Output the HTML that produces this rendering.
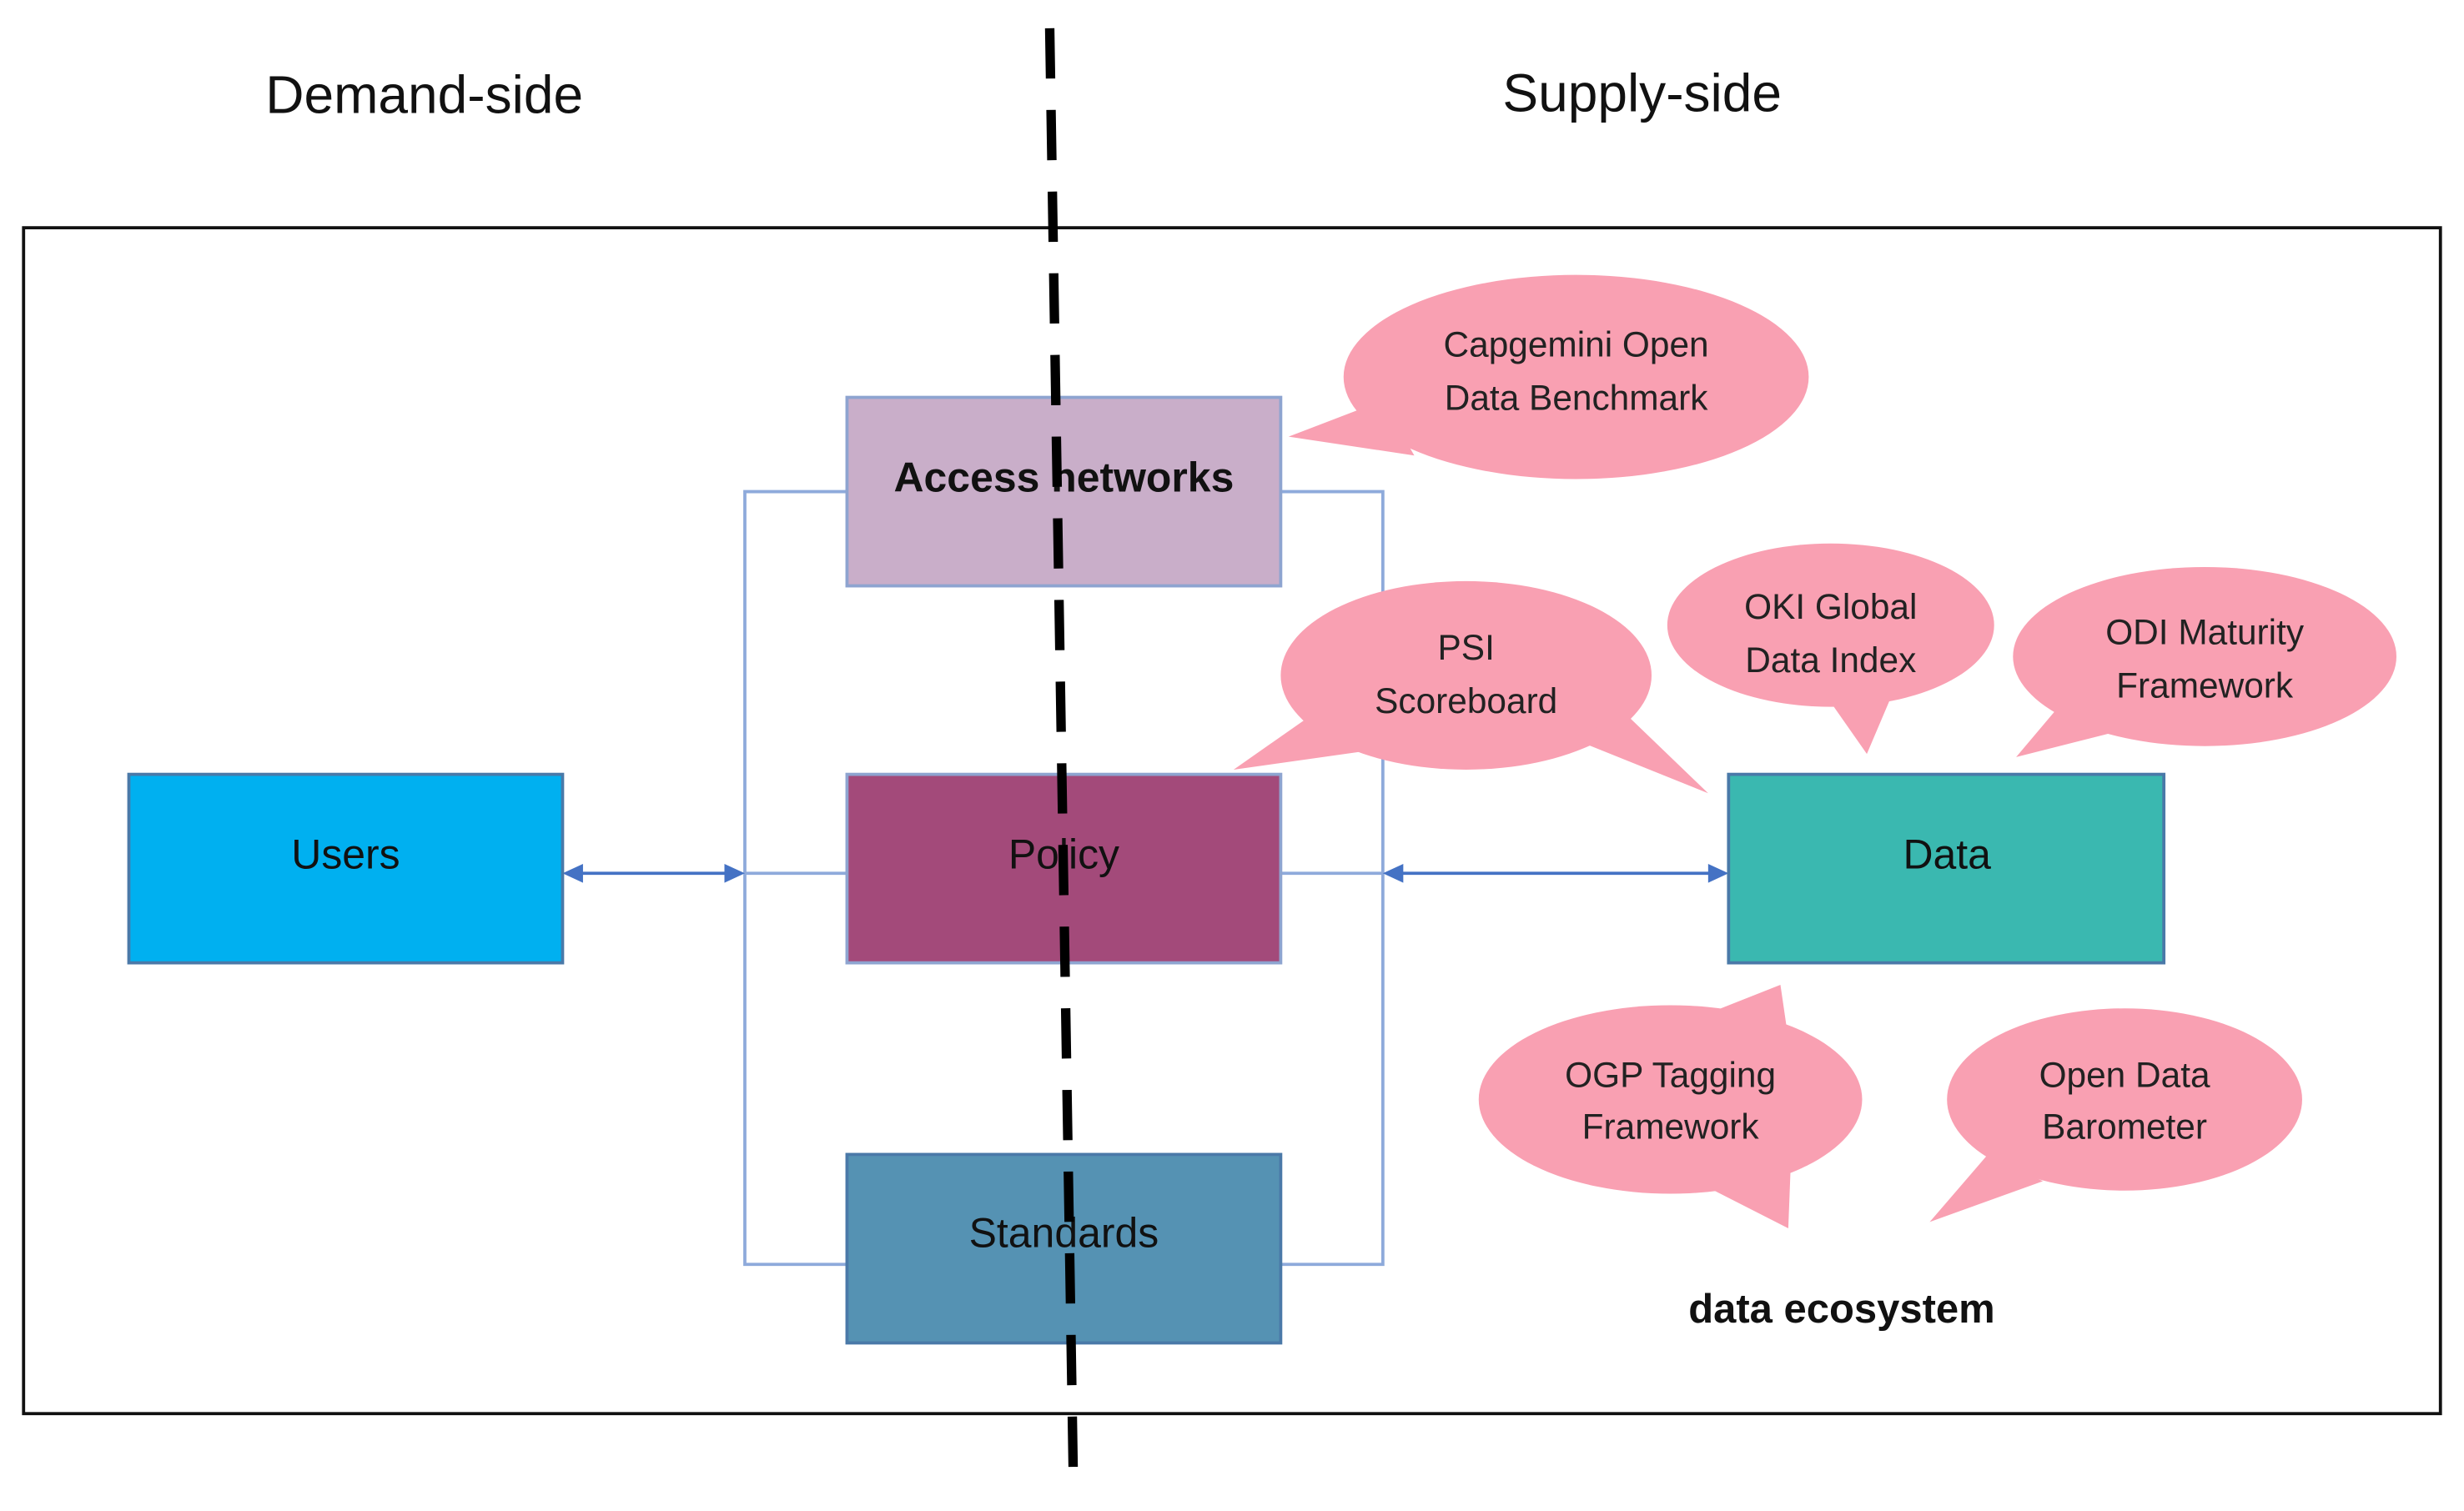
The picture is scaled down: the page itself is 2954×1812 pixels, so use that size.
<!DOCTYPE html>
<html><head><meta charset="utf-8"><style>
html,body{margin:0;padding:0;background:#fff;width:2954px;height:1812px;overflow:hidden}
svg{display:block}
text{font-family:"Liberation Sans",sans-serif}
</style></head><body>
<svg width="2954" height="1812" viewBox="0 0 1568 962" preserveAspectRatio="none" xmlns="http://www.w3.org/2000/svg">
<text x="270" y="72" font-size="34" text-anchor="middle" fill="#111">Demand-side</text>
<text x="1045" y="71" font-size="34" text-anchor="middle" fill="#111">Supply-side</text>
<rect x="15" y="145" width="1538" height="755" fill="none" stroke="#111" stroke-width="2"/>
<g stroke="#8eaadb" stroke-width="2" fill="none">
<polyline points="539,313 474,313 474,805 539,805"/>
<polyline points="815,313 880,313 880,805 815,805"/>
<line x1="474" y1="556" x2="539" y2="556"/>
<line x1="815" y1="556" x2="880" y2="556"/>
</g>
<g stroke="#4472c4" stroke-width="2" fill="#4472c4">
<line x1="362" y1="556" x2="470" y2="556"/>
<polygon points="358,556 371,550 371,562" stroke="none"/>
<polygon points="474,556 461,550 461,562" stroke="none"/>
<line x1="884" y1="556" x2="1096" y2="556"/>
<polygon points="880,556 893,550 893,562" stroke="none"/>
<polygon points="1100,556 1087,550 1087,562" stroke="none"/>
</g>
<rect x="539" y="253" width="276" height="120" fill="#c9aec9" stroke="#8ea4d0" stroke-width="2"/>
<rect x="539" y="493" width="276" height="120" fill="#a34a7a" stroke="#8ea4d0" stroke-width="2"/>
<rect x="539" y="735" width="276" height="120" fill="#5592b3" stroke="#4a79a8" stroke-width="2"/>
<rect x="82" y="493" width="276" height="120" fill="#00b0f0" stroke="#4a79a8" stroke-width="2"/>
<rect x="1100" y="493" width="277" height="120" fill="#3ab8b0" stroke="#4a79a8" stroke-width="2"/>
<text x="677" y="313" font-size="26.5" font-weight="bold" text-anchor="middle" fill="#111">Access networks</text>
<text x="677" y="553" font-size="26.5" text-anchor="middle" fill="#111">Policy</text>
<text x="677" y="794" font-size="26.5" text-anchor="middle" fill="#111">Standards</text>
<text x="220" y="553" font-size="26.5" text-anchor="middle" fill="#111">Users</text>
<text x="1239" y="553" font-size="26.5" text-anchor="middle" fill="#111">Data</text>
<g fill="#f9a0b2">
<ellipse cx="1003" cy="240" rx="148" ry="65"/><polygon points="820,278 880,255 900,290"/>
<ellipse cx="933" cy="430" rx="118" ry="60"/><polygon points="785,490 835,455 870,478"/><polygon points="1087,505 1000,470 1035,455"/>
<ellipse cx="1165" cy="398" rx="104" ry="52"/><polygon points="1188,480 1160,440 1205,440"/>
<ellipse cx="1403" cy="418" rx="122" ry="57"/><polygon points="1283,482 1310,450 1350,465"/>
<ellipse cx="1063" cy="700" rx="122" ry="60"/><polygon points="1133,627 1080,648 1140,675"/><polygon points="1138,782 1140,730 1085,755"/>
<ellipse cx="1352" cy="700" rx="113" ry="58"/><polygon points="1228,778 1265,735 1300,752"/>
</g>
<g font-size="22.5" text-anchor="middle" fill="#222">
<text x="1003" y="227">Capgemini Open</text><text x="1003" y="261">Data Benchmark</text>
<text x="933" y="420">PSI</text><text x="933" y="454">Scoreboard</text>
<text x="1165" y="394">OKI Global</text><text x="1165" y="428">Data Index</text>
<text x="1403" y="410">ODI Maturity</text><text x="1403" y="444">Framework</text>
<text x="1063" y="692">OGP Tagging</text><text x="1063" y="725">Framework</text>
<text x="1352" y="692">Open Data</text><text x="1352" y="725">Barometer</text>
</g>
<text x="1172" y="842" font-size="26" font-weight="bold" text-anchor="middle" fill="#111">data ecosystem</text>
<line x1="668" y1="18" x2="683" y2="940" stroke="#000" stroke-width="6" stroke-dasharray="32,20"/>
</svg>
</body></html>
